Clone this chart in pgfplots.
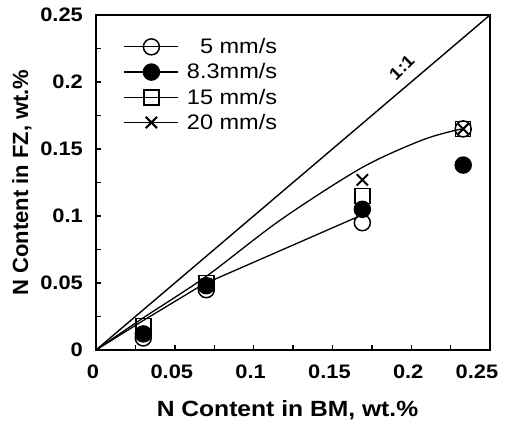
\documentclass[border=0pt]{standalone}
\usepackage{fontspec}
\setmainfont{Liberation Sans}[FakeStretch=1.12]
\newfontfamily\narrowfont{Liberation Sans}
\usepackage{pgfplots}
\pgfplotsset{compat=1.18}
\begin{document}
\begin{tikzpicture}
\begin{axis}[
  scale only axis, width=394pt, height=335pt,
  xmin=0, xmax=0.25, ymin=0, ymax=0.25,
  axis line style={line width=1.8pt},
  xtick={0,0.05,0.1,0.15,0.2,0.25},
  xticklabels={0,0.05,0.1,0.15,0.2,\makebox[0pt][c]{\kern-20pt\relax 0.25}},
  ytick={0,0.05,0.1,0.15,0.2,0.25},
  yticklabels={0,0.05,0.1,0.15,0.2,0.25},
  minor xtick={0.025,0.075,0.125,0.175,0.225},
  minor ytick={0.025,0.075,0.125,0.175,0.225},
  xtick pos=bottom, ytick pos=left,
  tick align=inside,
  major tick length=5pt, minor tick length=5pt,
  every tick/.style={black, line width=1.4pt},
  xticklabel style={anchor=north, inner sep=0pt, yshift=-15pt, xshift=-3pt, font=\fontsize{19.5}{21}\selectfont\bfseries},
  yticklabel style={anchor=east, inner sep=0pt, xshift=-13pt, font=\fontsize{19.5}{21}\selectfont\bfseries},
  xlabel={N Content in BM, wt.\%},
  ylabel={\narrowfont N Content in FZ, wt.\%},
  xlabel style={at={(axis description cs:0.486,-0.179)}, anchor=center, font=\fontsize{22}{24}\selectfont\bfseries},
  ylabel style={at={(axis description cs:-0.188,0.5)}, anchor=center, font=\fontsize{22}{24}\selectfont\bfseries},
  legend style={at={(0.07,0.792)}, anchor=west, draw=none, fill=none, inner sep=0pt,
    row sep=4.5pt, column sep=6pt, font=\fontsize{21}{24}\selectfont, nodes={inner sep=2pt}},
  legend cell align=left,
  legend image code/.code={\draw[sharp plot, mark repeat=2, mark phase=2, line width=1.2pt] plot coordinates {(0pt,0pt) (27pt,0pt) (54pt,0pt)};},
]
% 1:1 line
\addplot[black, line width=1.4pt, forget plot] coordinates {(0,0) (0.25,0.25)};
% upper fitted curve
\addplot[black, line width=1.3pt, smooth, forget plot] coordinates {
(0,0) (0.03,0.024) (0.07,0.055) (0.117,0.097) (0.1686,0.136) (0.2077,0.157) (0.232,0.165)};
% lower fitted curve
\addplot[black, line width=1.3pt, forget plot] coordinates {
(0,0) (0.03,0.022) (0.068,0.049) (0.1686,0.1007)};
\addplot[black, only marks, mark=o, mark size=8pt, mark options={line width=1.5pt}] coordinates {
(0.03,0.009) (0.07,0.045) (0.169,0.095) (0.233,0.165)};
\addlegendentry{\rlap{\phantom{1}5}\phantom{8.3}mm/s}
\addplot[black, only marks, mark=*, mark size=8pt, mark options={line width=1.5pt}] coordinates {
(0.03,0.012) (0.07,0.048) (0.169,0.105) (0.233,0.138)};
\addlegendentry{8.3mm/s}
\addplot[black, only marks, mark=square, mark size=7.5pt, mark options={line width=1.5pt}] coordinates {
(0.03,0.018) (0.07,0.05) (0.169,0.115) (0.233,0.165)};
\addlegendentry{\rlap{15}\phantom{8.3}mm/s}
\addplot[black, only marks, mark=x, mark size=8pt, mark options={line width=2pt}] coordinates {
(0.03,0.012) (0.07,0.049) (0.169,0.127) (0.233,0.165)};
\addlegendentry{\rlap{20}\phantom{8.3}mm/s}
\node[rotate=45, font=\fontsize{17}{17}\selectfont\bfseries] at (axis cs:0.194,0.211) {1:1};
\end{axis}
\pgfresetboundingbox
\path ([shift={(-96pt,-70pt)}]current axis.south west) rectangle ([shift={(15pt,15pt)}]current axis.north east);
\end{tikzpicture}
\end{document}
